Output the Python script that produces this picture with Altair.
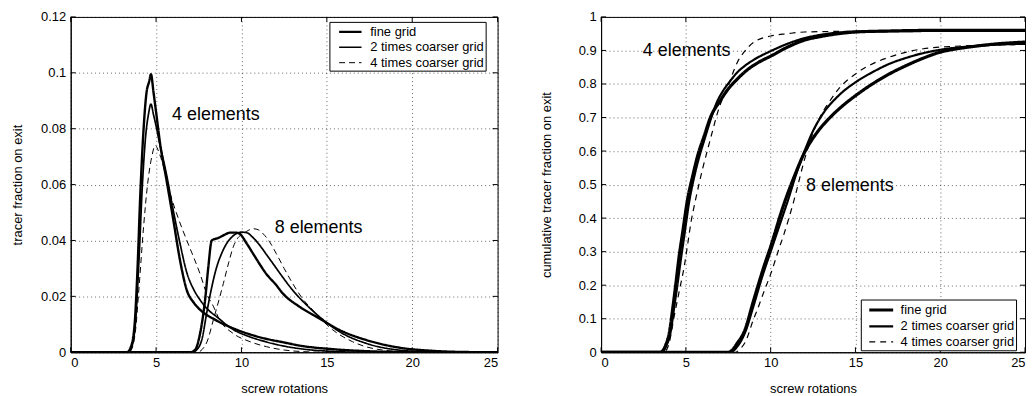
import altair as alt
import pandas as pd

GRIDS = ["fine grid", "2 times coarser grid", "4 times coarser grid"]
X_TICKS = [0, 5, 10, 15, 20, 25]
PDF_TICKS = [0, 0.02, 0.04, 0.06, 0.08, 0.1, 0.12]
CDF_TICKS = [0, 0.1, 0.2, 0.3, 0.4, 0.5, 0.6, 0.7, 0.8, 0.9, 1]

# ---- left panel: tracer fraction on exit ----
pdf4_fine_x = [0, 3.3, 3.5, 3.73, 3.9, 4.08, 4.25, 4.43, 4.6, 4.7, 4.85, 5.0, 5.24, 5.6, 6.02, 6.4, 6.8, 7.2, 7.58, 8.5, 9.5, 10.5, 11.46, 12.5, 13.4, 15.35, 17.3, 19.2, 25]
pdf4_fine_y = [0, 0, 0.0015, 0.009, 0.028, 0.057, 0.078, 0.0924, 0.097, 0.0995, 0.093, 0.086, 0.0745, 0.062, 0.047, 0.033, 0.0222, 0.0178, 0.0152, 0.0115, 0.0086, 0.0064, 0.0048, 0.0035, 0.0024, 0.0011, 0.0004, 0.0001, 0]
pdf4_2x_x = [0, 3.35, 3.55, 3.8, 4.0, 4.2, 4.4, 4.55, 4.7, 4.85, 5.0, 5.2, 5.6, 6.0, 6.4, 6.8, 7.2, 7.58, 8.0, 8.55, 9.5, 10.5, 11.46, 12.5, 13.4, 15.35, 17, 25]
pdf4_2x_y = [0, 0, 0.0015, 0.011, 0.033, 0.06, 0.078, 0.085, 0.0888, 0.085, 0.081, 0.075, 0.064, 0.051, 0.039, 0.0285, 0.0225, 0.0187, 0.0155, 0.0127, 0.0082, 0.0055, 0.0037, 0.0022, 0.0013, 0.0003, 0, 0]
pdf4_4x_x = [0, 3.4, 3.6, 3.8, 4.0, 4.27, 4.5, 4.75, 4.95, 5.2, 5.5, 5.83, 6.3, 6.8, 7.2, 7.58, 7.96, 8.35, 8.74, 9.5, 10.5, 11.46, 12.5, 13.4, 15, 25]
pdf4_4x_y = [0, 0, 0.0015, 0.008, 0.023, 0.045, 0.06, 0.07, 0.074, 0.071, 0.065, 0.0567, 0.048, 0.040, 0.034, 0.028, 0.021, 0.0165, 0.0114, 0.0068, 0.0038, 0.002, 0.0008, 0.0003, 0, 0]
pdf8_fine_x = [0, 7.0, 7.3, 7.58, 7.75, 7.87, 8.06, 8.26, 8.64, 9.0, 9.32, 9.71, 9.9, 10.3, 10.68, 11.07, 11.46, 12.0, 12.43, 13.4, 14.57, 15.73, 17.3, 19.2, 21.2, 23, 25]
pdf8_fine_y = [0, 0, 0.001, 0.0068, 0.013, 0.0187, 0.0305, 0.040, 0.0409, 0.042, 0.0428, 0.0428, 0.0424, 0.039, 0.0353, 0.0315, 0.028, 0.0243, 0.021, 0.0163, 0.0121, 0.008, 0.0044, 0.0017, 0.0005, 0.0001, 0]
pdf8_2x_x = [0, 7.1, 7.4, 7.7, 7.96, 8.25, 8.55, 8.85, 9.13, 9.4, 9.71, 10.0, 10.3, 10.68, 11.07, 11.46, 11.85, 12.4, 13.0, 13.8, 14.57, 15.73, 17.3, 19.2, 21.2, 25]
pdf8_2x_y = [0, 0, 0.001, 0.005, 0.0139, 0.023, 0.0305, 0.0355, 0.0389, 0.041, 0.0425, 0.043, 0.0428, 0.041, 0.0383, 0.035, 0.0317, 0.027, 0.0222, 0.017, 0.0127, 0.0074, 0.0032, 0.0008, 0.0001, 0]
pdf8_4x_x = [0, 7.4, 7.7, 8.0, 8.35, 8.65, 8.94, 9.25, 9.52, 9.8, 10.1, 10.4, 10.68, 11.0, 11.27, 11.65, 12.04, 12.5, 13.0, 13.6, 14.18, 14.8, 15.35, 16.5, 18.26, 20.2, 25]
pdf8_4x_y = [0, 0, 0.001, 0.004, 0.0115, 0.018, 0.0246, 0.032, 0.0377, 0.041, 0.0424, 0.0436, 0.0442, 0.0438, 0.0424, 0.0395, 0.0353, 0.030, 0.0246, 0.019, 0.0151, 0.011, 0.008, 0.0038, 0.0008, 0.0001, 0]

# ---- right panel: cumulative tracer fraction on exit ----
cdf4_fine_x = [0, 3.5, 3.8, 4.03, 4.25, 4.42, 4.6, 4.81, 5.1, 5.4, 5.69, 6.1, 6.47, 7.0, 7.45, 8.04, 8.62, 9.3, 10.0, 11.0, 11.95, 13.0, 14.0, 15.0, 17.0, 20.0, 25]
cdf4_fine_y = [0, 0, 0.02, 0.06, 0.14, 0.209, 0.285, 0.357, 0.456, 0.525, 0.585, 0.648, 0.703, 0.748, 0.782, 0.815, 0.842, 0.865, 0.883, 0.91, 0.93, 0.942, 0.95, 0.955, 0.958, 0.96, 0.96]
cdf4_2x_x = [0, 3.55, 3.85, 4.1, 4.3, 4.5, 4.7, 4.9, 5.2, 5.5, 5.8, 6.1, 6.5, 6.85, 7.2, 7.6, 8.04, 8.5, 9.0, 10.0, 11.0, 11.95, 13.0, 15.0, 20.0, 25]
cdf4_2x_y = [0, 0, 0.02, 0.06, 0.13, 0.2, 0.275, 0.345, 0.45, 0.525, 0.585, 0.635, 0.7, 0.748, 0.78, 0.808, 0.835, 0.855, 0.872, 0.898, 0.92, 0.936, 0.947, 0.956, 0.958, 0.958]
cdf4_4x_x = [0, 3.7, 4.0, 4.32, 4.6, 4.91, 5.1, 5.3, 5.55, 5.79, 6.0, 6.28, 6.6, 6.86, 7.15, 7.45, 7.75, 8.04, 8.43, 9.02, 10.0, 11.0, 12.0, 15.0, 25]
cdf4_4x_y = [0, 0, 0.025, 0.11, 0.18, 0.258, 0.32, 0.387, 0.45, 0.505, 0.55, 0.604, 0.665, 0.713, 0.755, 0.787, 0.83, 0.865, 0.895, 0.925, 0.943, 0.95, 0.955, 0.957, 0.957]
cdf8_fine_x = [0, 7.5, 7.8, 8.0, 8.43, 9.02, 9.6, 10.0, 10.77, 11.36, 12.04, 12.73, 13.5, 14.2, 15.0, 16.0, 17.0, 18.0, 19.0, 20.0, 21.0, 22.0, 23.0, 25]
cdf8_fine_y = [0, 0, 0.01, 0.025, 0.06, 0.159, 0.255, 0.315, 0.44, 0.52, 0.6, 0.655, 0.7, 0.733, 0.765, 0.8, 0.83, 0.855, 0.877, 0.895, 0.905, 0.912, 0.918, 0.925]
cdf8_2x_x = [0, 7.6, 8.0, 8.5, 9.0, 9.5, 10.0, 10.5, 11.0, 11.5, 12.0, 12.5, 13.0, 14.0, 15.0, 16.0, 17.0, 18.0, 19.0, 20.0, 22.0, 25]
cdf8_2x_y = [0, 0, 0.015, 0.06, 0.14, 0.225, 0.3, 0.375, 0.45, 0.53, 0.6, 0.66, 0.705, 0.765, 0.805, 0.835, 0.86, 0.878, 0.892, 0.902, 0.913, 0.92]
cdf8_4x_x = [0, 7.9, 8.2, 8.5, 9.0, 9.2, 9.6, 10.0, 10.5, 10.77, 11.36, 12.0, 12.5, 13.0, 13.5, 14.0, 15.0, 16.0, 17.0, 18.0, 19.0, 20.0, 25]
cdf8_4x_y = [0, 0, 0.01, 0.03, 0.1, 0.125, 0.18, 0.233, 0.31, 0.35, 0.45, 0.575, 0.655, 0.71, 0.75, 0.785, 0.83, 0.86, 0.88, 0.895, 0.905, 0.91, 0.918]

# ---- annotations ----
ann_left_label = ["4 elements", "8 elements"]
ann_left_x = [5.94, 11.95]
ann_left_y = [0.085, 0.0446]
ann_right_label = ["4 elements", "8 elements"]
ann_right_x = [2.46, 12.09]
ann_right_y = [0.899, 0.496]

FONT = "Liberation Sans"


def build(series):
    rows = []
    for elements, grid, xs, ys in series:
        for i, (xv, yv) in enumerate(zip(xs, ys)):
            rows.append({"x": xv, "y": yv, "grid": grid, "elements": elements, "order": i})
    return pd.DataFrame(rows)


left_df = build([
    ("4", GRIDS[0], pdf4_fine_x, pdf4_fine_y),
    ("4", GRIDS[1], pdf4_2x_x, pdf4_2x_y),
    ("4", GRIDS[2], pdf4_4x_x, pdf4_4x_y),
    ("8", GRIDS[0], pdf8_fine_x, pdf8_fine_y),
    ("8", GRIDS[1], pdf8_2x_x, pdf8_2x_y),
    ("8", GRIDS[2], pdf8_4x_x, pdf8_4x_y),
])
right_df = build([
    ("4", GRIDS[0], cdf4_fine_x, cdf4_fine_y),
    ("4", GRIDS[1], cdf4_2x_x, cdf4_2x_y),
    ("4", GRIDS[2], cdf4_4x_x, cdf4_4x_y),
    ("8", GRIDS[0], cdf8_fine_x, cdf8_fine_y),
    ("8", GRIDS[1], cdf8_2x_x, cdf8_2x_y),
    ("8", GRIDS[2], cdf8_4x_x, cdf8_4x_y),
])
left_ann = pd.DataFrame({"x": ann_left_x, "y": ann_left_y, "label": ann_left_label})
right_ann = pd.DataFrame({"x": ann_right_x, "y": ann_right_y, "label": ann_right_label})


def legend(lx, ly, path, sym_off, lab_off):
    return alt.Legend(title=None, orient="none", legendX=lx, legendY=ly,
                      symbolType=path, symbolSize=225, symbolStrokeColor="black",
                      symbolFillColor="transparent",
                      labelFontSize=13, labelFont=FONT, labelColor="black",
                      strokeColor="black", fillColor="white",
                      padding=1, rowPadding=0, symbolOffset=sym_off,
                      labelOffset=lab_off, labelLimit=300)


def panel(df, ann, ydomain, yticks, yfmt, ytitle, ytitle_pad, w, h, widths, dash, leg):
    x = alt.X("x:Q", scale=alt.Scale(domain=[0, 25], nice=False, zero=False),
              axis=alt.Axis(values=X_TICKS, title="screw rotations", titlePadding=13,
                            labelPadding=4, labelOverlap=False))
    y = alt.Y("y:Q", scale=alt.Scale(domain=ydomain, nice=False, zero=False),
              axis=alt.Axis(values=yticks, format=yfmt, title=ytitle,
                            titlePadding=ytitle_pad, labelPadding=5, labelOverlap=False))
    lines = alt.Chart(df).mark_line(color="black", interpolate="monotone", clip=True).encode(
        x=x, y=y,
        detail="elements:N",
        order="order:Q",
        strokeDash=alt.StrokeDash("grid:N", scale=alt.Scale(domain=GRIDS, range=dash), legend=leg),
        strokeWidth=alt.StrokeWidth("grid:N", scale=alt.Scale(domain=GRIDS, range=widths), legend=leg),
    )
    text = alt.Chart(ann).mark_text(align="left", baseline="middle", fontSize=18, font=FONT,
                                    color="black").encode(x=x, y=y, text="label:N")
    # inner tick marks on all four sides (matlab style)
    xt = alt.Chart(pd.DataFrame({"x": X_TICKS}))
    yt = alt.Chart(pd.DataFrame({"y": yticks}))
    ticks = [
        xt.mark_rule(color="black").encode(x=x, y=alt.value(h), y2=alt.value(h - 5)),
        xt.mark_rule(color="black").encode(x=x, y=alt.value(0), y2=alt.value(5)),
        yt.mark_rule(color="black").encode(y=y, x=alt.value(0), x2=alt.value(5)),
        yt.mark_rule(color="black").encode(y=y, x=alt.value(w), x2=alt.value(w - 5)),
    ]
    return alt.layer(*ticks, lines, text).properties(width=w, height=h)


left = panel(left_df, left_ann, [0, 0.12], PDF_TICKS, ".2~f", "tracer fraction on exit", 16,
             429, 337, [2.4, 1.0, 1.0], [[1, 0], [1, 0], [6, 4]],
             legend(260, 5, "M-1.5,0H1.5", 11, 11))
right = panel(right_df, right_ann, [0, 1], CDF_TICKS, ".1~f", "cumulative tracer fraction on exit", 25,
              426, 337, [3.2, 1.2, 1.2], [[1, 0], [1, 0], [6, 5]],
              legend(261, 284, "M-1.6,0H1.6", 10, 10))

chart = alt.HConcatChart(hconcat=[left, right], spacing=104, bounds="flush").resolve_scale(
    strokeDash="independent", strokeWidth="independent"
).resolve_legend(
    strokeDash="independent", strokeWidth="independent"
).configure(
    padding={"left": 3, "top": 1, "right": 0, "bottom": 0},
    background="white",
).configure_view(
    stroke="black", strokeWidth=1
).configure_axis(
    labelFont=FONT, titleFont=FONT, labelFontSize=13, titleFontSize=13,
    titleFontWeight="normal", labelColor="black", titleColor="black",
    domainColor="black", tickColor="black", tickSize=0,
    gridColor="black", gridDash=[1, 3], gridOpacity=0.6, gridWidth=1,
)

chart.save("out.html", embed_options={"renderer": "svg", "actions": False})
